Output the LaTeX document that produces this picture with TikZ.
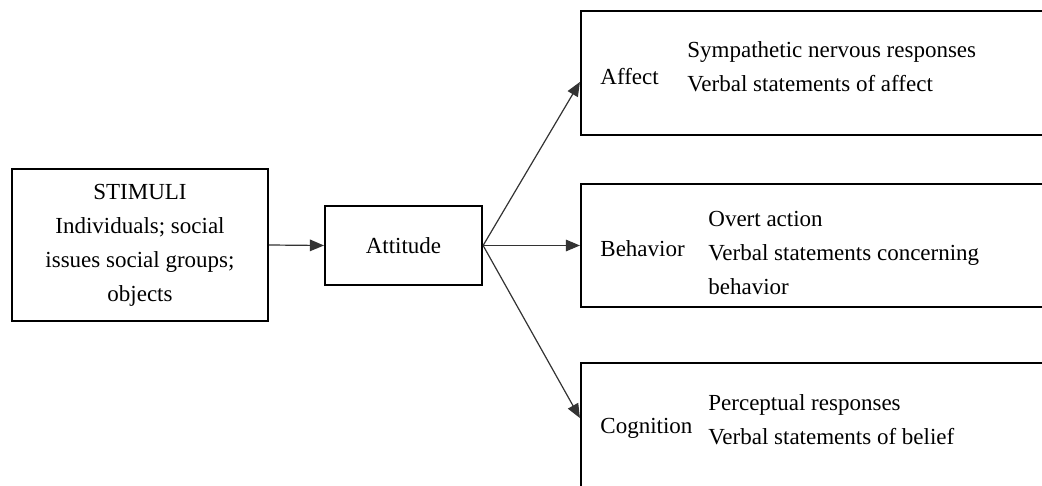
\documentclass[tikz,border=0pt]{standalone}
\usepackage{fontspec}
\setmainfont{Liberation Serif}
\usetikzlibrary{arrows}
\tikzstyle{box} = [draw, rectangle, line width=1.1pt, inner sep=0pt]
\tikzstyle{line} = [draw, black!80, line width=0.6pt, -triangle 45]
\tikzstyle{lbl} = [anchor=west, inner sep=0pt]
\tikzstyle{items} = [anchor=west, inner sep=0pt, align=left]

\begin{document}
\begin{tikzpicture}[x=0.5pt, y=-0.5pt, font=\fontsize{11.5}{17}\selectfont]

		\clip (0,0) rectangle (1042,486);

		\node [box, minimum width=128pt, minimum height=76pt, align=center] (stim) at (140,245)
			{STIMULI\\Individuals; social\\issues social groups;\\objects};
		\node [box, minimum width=78.5pt, minimum height=39.5pt] (att) at (403.5,245.5) {Attitude};

		\node [box, minimum width=240pt, minimum height=62pt] (affbox) at (821,73) {};
		\node [box, minimum width=240pt, minimum height=61.5pt] (behbox) at (821,245.5) {};
		\node [box, minimum width=240pt, minimum height=70pt] (cogbox) at (821,433) {};

		\node [lbl] (afflbl) at (600,77) {Affect};
		\node [items] (affitems) at (687,67) {Sympathetic nervous responses\\Verbal statements of affect};
		\node [lbl] (behlbl) at (600,249) {Behavior};
		\node [items] (behitems) at (708,253) {Overt action\\Verbal statements concerning\\behavior};
		\node [lbl] (coglbl) at (600,428) {Cognition};
		\node [items] (cogitems) at (708,420) {Perceptual responses\\Verbal statements of belief};

		\coordinate (affin) at (affbox.west |- 0,82);
		\coordinate (cogin) at (cogbox.west |- 0,418);

		\path [line] (stim.east) -- (att.west);
		\path [line] (att.east) -- (affin);
		\path [line] (att.east) -- (behbox.west);
		\path [line] (att.east) -- (cogin);

\end{tikzpicture}
\end{document}
